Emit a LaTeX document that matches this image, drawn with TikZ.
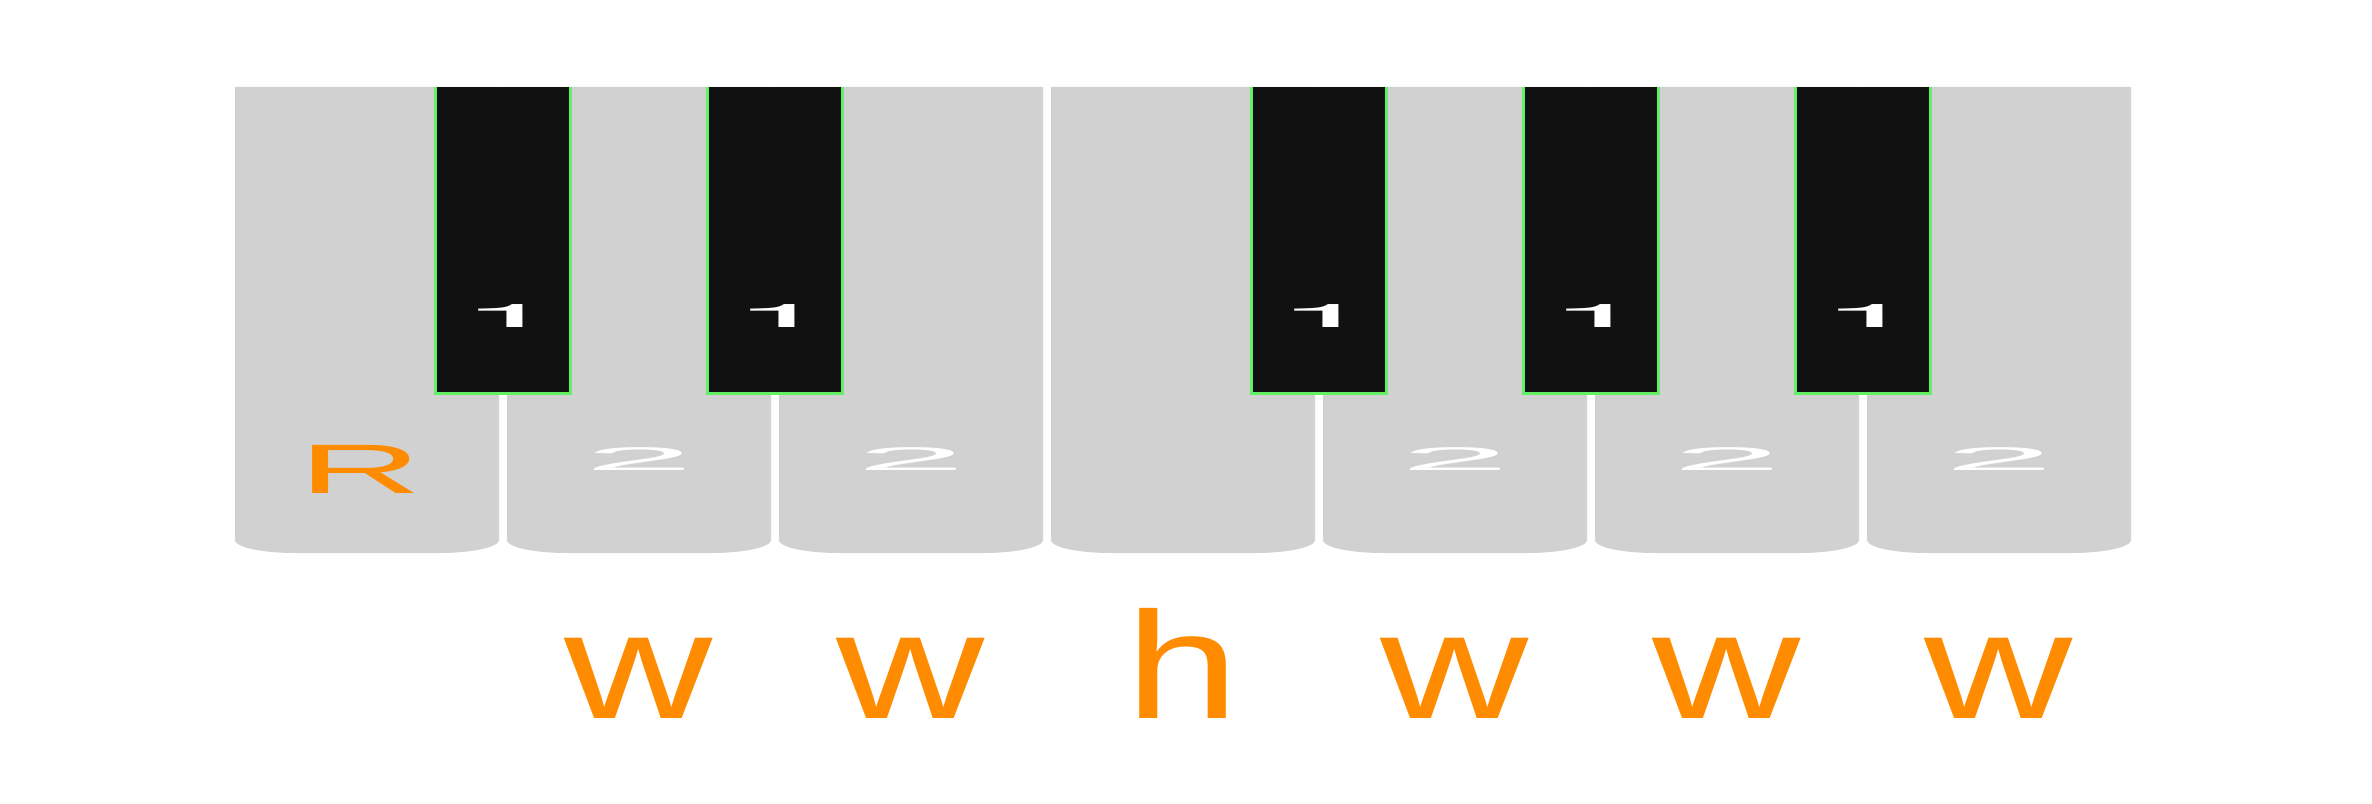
\documentclass[tikz,border=0pt]{standalone}
\usepackage{fontspec}
\setmainfont{Liberation Sans}
\newfontfamily\herosfont{TeX Gyre Heros}
\usepackage{graphicx}
\definecolor{keygray}{RGB}{209,209,209}
\definecolor{keyblack}{RGB}{17,17,17}
\definecolor{keygreen}{RGB}{100,240,100}
\definecolor{lblorange}{RGB}{255,140,0}
\begin{document}
\begin{tikzpicture}[x=0.25pt,y=0.25pt,
  whitekey/.style={fill=keygray},
  blackkey/.style={fill=keyblack},
  blackedge/.style={draw=keygreen,line width=0.75pt},
  lbl/.style={inner sep=0pt,anchor=base},
  steplbl/.style={lbl,text=lblorange,font=\fontsize{38}{40}\selectfont},
  rootlbl/.style={lbl,text=lblorange,font=\fontsize{17.5}{20}\selectfont},
  twolbl/.style={lbl,text=white,font=\fontsize{8.2}{10}\selectfont},
  onelbl/.style={lbl,text=white,font=\herosfont\fontsize{8.1}{10}\selectfont}]
\fill[white] (0,0) rectangle (2372,803);
\useasboundingbox (0,0) rectangle (2372,803);
% white keys
\foreach \i [evaluate=\i as \L using 235+272*\i,
             evaluate=\i as \R using 499+272*\i] in {0,...,6}{
  \fill[whitekey] (\L,716) -- (\L,263)
    arc[start angle=180,end angle=270,x radius=60,y radius=13]
    -- (\R-60,250)
    arc[start angle=270,end angle=360,x radius=60,y radius=13]
    -- (\R,716) -- cycle;
}
% black keys
\foreach \g in {503,775,1319,1591,1863}{
  \fill[blackkey] (\g-67.5,409) rectangle (\g+67.5,716);
  \draw[blackedge] (\g-67.5,716) -- (\g-67.5,409) -- (\g+67.5,409) -- (\g+67.5,716);
  \node[onelbl] (one-\g) at (\g+7,475) {\scalebox{5.57}[1]{1}};
}
% white key labels
\node[rootlbl] (root) at (360,310) {\scalebox{2.45}[1]{R}};
\foreach \c in {639,911,1455,1727,1999}{
  \node[twolbl] (two-\c) at (\c,332) {\scalebox{6.0}[1]{2}};
}
% step labels
\foreach \c in {639,911,1455,1727,1999}{
  \node[steplbl] (w-\c) at (\c,85) {\scalebox{1.35}[1]{w}};
}
\node[steplbl] (h) at (1183,85) {\scalebox{1.35}[1]{h}};
\end{tikzpicture}
\end{document}
